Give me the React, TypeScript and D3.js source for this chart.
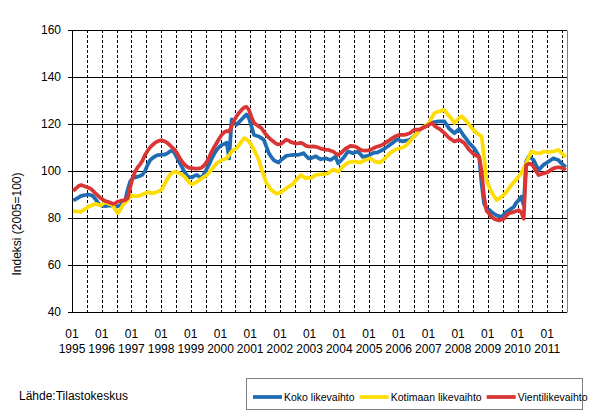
import * as d3 from 'd3';
import { useEffect, useRef } from 'react';

// monthly index 2005=100, 1995M01 .. 2011M08
const years = ['1995', '1996', '1997', '1998', '1999', '2000', '2001', '2002', '2003', '2004', '2005', '2006', '2007', '2008', '2009', '2010', '2011'];
const yTicks = [40, 60, 80, 100, 120, 140, 160];

const koko = [
  87.6, 88, 88.6, 89.3, 89.6, 89.8, 90, 89.8, 89.3, 88, 86.5, 85.4,
  85.2, 85, 85.2, 85.4, 85.2, 84.7, 85, 85.4, 86, 87.5, 92, 95.5,
  97, 97.3, 97.6, 97.9, 98.5, 100, 102.5, 104.5, 105.5, 106.2, 106.7, 106.9,
  107, 107, 107.5, 108.3, 108.7, 107.5, 105.5, 103.5, 101.5, 99.5, 98, 97.3,
  97.3, 98, 98.3, 97.5, 97.3, 99, 101, 103, 105.4, 107.3, 109, 110.2,
  111.1, 111.5, 112, 105.4, 122, 120.5, 119.7, 120.8, 121.9, 123, 124, 122.5,
  119, 115.4, 115, 114.7, 114, 113.3, 110.5, 107.6, 106, 104.7, 104, 103.6,
  104.7, 105.5, 106.4, 106.6, 106.8, 106.9, 106.9, 106.9, 107.2, 107.6, 106.5, 105.4,
  105.4, 105.8, 106.3, 105.6, 105, 105.2, 105.4, 105, 104.7, 105.4, 106.1, 103.3,
  104.3, 105.4, 106.8, 108.3, 108, 107.6, 108, 108.3, 107.2, 106, 106.2, 106.4,
  107, 107.6, 107.8, 107.9, 108.5, 109, 109.7, 110.4, 111.2, 111.9, 112.8, 113.6,
  113, 112.6, 112.8, 113, 113.3, 114.2, 115, 116.3, 117.6, 118.3, 119, 119.7,
  120.4, 120.6, 120.8, 121, 121.1, 121.1, 121.1, 119.5, 117.9, 117, 116.1, 117,
  117.9, 116.3, 114.7, 113.3, 111.9, 110.8, 109.7, 108, 106, 94.6, 86.1, 84,
  83.5, 82.6, 81.8, 81.1, 80.8, 80.4, 81.5, 82.6, 83.3, 84, 84.7, 86.5,
  87.6, 89, 85.4, 104, 106.1, 105.5, 104.7, 102.5, 100.4, 101.5, 102.6, 103.3,
  104, 104.7, 105.4, 105, 104.7, 103.5, 102.6, 101.6,
];

const kotimaan = [
  83, 82.8, 82.7, 82.6, 83.2, 84, 84.7, 85.2, 85.6, 86, 85.7, 85.4,
  86, 86.9, 86.2, 85.8, 85.4, 83.5, 82.1, 83.5, 85.4, 86.5, 87.6, 89.3,
  89.5, 89.3, 89.3, 89.6, 90, 90.5, 91, 90.8, 90.5, 90.8, 91.2, 91.6,
  92.5, 94.7, 96.5, 98.3, 99.2, 99.7, 99.4, 99, 98.3, 97.6, 96.3, 95,
  94.3, 94.8, 95.4, 96.2, 96.9, 97.6, 98.3, 99.5, 100.7, 102, 103.3, 104,
  104.7, 105, 105.4, 106.8, 108.3, 109, 109.7, 111, 112.5, 114, 113.5, 112.6,
  111, 109, 107, 104.7, 101, 98, 95, 93.5, 92, 91.2, 90.4, 90.6,
  91, 91.8, 92.6, 93.3, 94, 94.7, 96.1, 97.2, 98.3, 97.5, 96.9, 97.2,
  96.9, 97.6, 98.3, 98.5, 98.6, 98.7, 98.8, 99, 99.8, 100.7, 100.2, 99.7,
  100.8, 101.9, 102.8, 103.6, 103.8, 104, 104, 103.8, 103.6, 104.2, 104.7, 105,
  105.4, 104.7, 104, 103.8, 103.6, 104.5, 105.4, 106.5, 107.6, 108.3, 109, 109.4,
  109.7, 110, 110.4, 111.5, 112.6, 113.8, 115, 116.3, 117.6, 118.3, 119, 119.7,
  121, 123, 124.7, 125.1, 125.4, 125.7, 125.9, 124.5, 123.3, 122, 120.4, 121.5,
  122.6, 123.3, 122.2, 121.1, 119.7, 118.3, 117.2, 116.1, 115.4, 114.7, 106, 96,
  93.5, 91.1, 89.4, 87.6, 88.3, 89, 90, 91.1, 92.5, 94, 95.2, 96.4,
  97.7, 99, 101, 103.3, 105.8, 108.3, 108, 107.6, 107.6, 107.6, 108.3, 108.1,
  108, 108.2, 108.3, 108.6, 109, 108, 106.9, 106,
];

const vienti = [
  91.5, 92.5, 93.5, 94, 93.8, 93.3, 93, 92.5, 91.5, 90.5, 89.5, 88.5,
  87.8, 87.2, 86.9, 86.5, 86, 86.3, 87, 87.2, 87.5, 87.6, 88.5, 93,
  97, 99.8, 101.5, 102.8, 104.5, 106.8, 108.5, 110, 111, 112, 112.6, 113,
  113, 112.6, 112, 111, 110, 109, 107.5, 105.5, 104, 102.7, 101.8, 101.3,
  101.2, 101, 101, 101.1, 101.5, 102.5, 104, 106, 108.3, 110.2, 112, 113.8,
  115.4, 116.5, 117, 116.9, 119, 121.5, 123.3, 124.8, 126, 127, 127.3, 126,
  123, 120.5, 119.7, 119, 118.3, 116.8, 115.4, 114.2, 113.3, 112.4, 111.6, 111.3,
  111.6, 112.4, 113.3, 113, 112.3, 112, 111.6, 111.8, 112, 111.5, 110.7, 110.5,
  110.4, 110.5, 110.3, 110, 109.5, 109.3, 109.1, 109, 108.6, 108.3, 107.5, 106.9,
  107.5, 108.5, 109.5, 110.1, 110.7, 110.6, 110.4, 109.8, 109, 108.8, 108.7, 108.8,
  109, 109.5, 110.1, 110.4, 110.7, 111.2, 111.9, 112.6, 113.3, 114, 114.7, 115.1,
  115.4, 115.4, 115.4, 115.7, 116.1, 116.9, 117.6, 117.6, 117.6, 118.2, 118.7, 119.2,
  119.8, 120.4, 119.2, 118.5, 117.9, 117, 116.1, 115, 114, 113.3, 112.6, 113,
  113.3, 112.6, 111.9, 110.5, 109, 108, 106.9, 106.5, 106.1, 100, 89, 83,
  81.9, 80.5, 79.7, 79.3, 79, 79.3, 79.7, 81, 81.9, 82.3, 82.6, 83,
  83.3, 82.5, 79.7, 102.6, 103, 103, 101.9, 100, 98.3, 98.6, 99, 99.3,
  99.7, 100.5, 101.1, 101.4, 101.6, 101.4, 101.1, 100.4,
];

const seriesNames = ['Koko likevaihto', 'Kotimaan likevaihto', 'Vientilikevaihto'];
const seriesValues = [koko, kotimaan, vienti];
const seriesColors = ['#1f6cb4', '#ffdd00', '#d93535'];

const App = () => {
  const chartRef = useRef<SVGSVGElement | null>(null);

  useEffect(() => {
    const width = 592;
    const height = 415;
    const left = 72;
    const right = 567;
    const top = 30;
    const bottom = 312;
    const font = '"Liberation Sans", Arial, sans-serif';

    const svg = d3.select(chartRef.current).attr('width', width).attr('height', height);
    svg.selectAll('*').remove();

    const n = koko.length;
    const x = d3.scaleLinear().domain([0, n]).range([left, right]);
    const y = d3.scaleLinear().domain([40, 160]).range([bottom, top]);
    const crisp = (v: number) => Math.round(v) + 0.5;

    // vertical dashed lines every half year
    const halfYears = d3.range(6, n, 6);
    svg
      .append('g')
      .selectAll('line')
      .data(halfYears)
      .join('line')
      .attr('x1', (d) => crisp(x(d)))
      .attr('x2', (d) => crisp(x(d)))
      .attr('y1', top)
      .attr('y2', bottom)
      .attr('stroke', '#000')
      .attr('stroke-width', 1)
      .attr('stroke-dasharray', '3,2');

    // horizontal grid
    svg
      .append('g')
      .selectAll('line')
      .data(yTicks)
      .join('line')
      .attr('x1', left - 4)
      .attr('x2', right)
      .attr('y1', (d) => crisp(y(d)))
      .attr('y2', (d) => crisp(y(d)))
      .attr('stroke', '#000')
      .attr('stroke-width', 1);

    // right border
    svg
      .append('line')
      .attr('x1', crisp(right))
      .attr('x2', crisp(right))
      .attr('y1', crisp(top))
      .attr('y2', crisp(bottom))
      .attr('stroke', '#808080');

    // left axis
    svg
      .append('line')
      .attr('x1', crisp(left))
      .attr('x2', crisp(left))
      .attr('y1', crisp(top))
      .attr('y2', crisp(bottom))
      .attr('stroke', '#000');

    // y labels
    svg
      .append('g')
      .selectAll('text')
      .data(yTicks)
      .join('text')
      .attr('x', 61)
      .attr('y', (d) => y(d) + 4)
      .attr('text-anchor', 'end')
      .attr('font-family', font)
      .attr('font-size', 12)
      .text((d) => d);

    // x labels
    const xl = svg.append('g').attr('font-family', font).attr('font-size', 12).attr('text-anchor', 'middle');
    xl.selectAll('text.m')
      .data(years)
      .join('text')
      .attr('class', 'm')
      .attr('x', (_, i) => x(i * 12))
      .attr('y', 338)
      .text('01');
    xl.selectAll('text.yr')
      .data(years)
      .join('text')
      .attr('class', 'yr')
      .attr('x', (_, i) => x(i * 12))
      .attr('y', 353)
      .text((d) => d);

    // y title
    svg
      .append('text')
      .attr('transform', 'translate(21,224) rotate(-90)')
      .attr('text-anchor', 'middle')
      .attr('font-family', font)
      .attr('font-size', 12)
      .text('Indeksi (2005=100)');

    // series
    const line = d3
      .line<number>()
      .x((_, i) => x(i + 0.5))
      .y((d) => y(d));
    seriesValues.forEach((vals, k) => {
      svg
        .append('path')
        .attr('d', line(vals))
        .attr('fill', 'none')
        .attr('stroke', seriesColors[k])
        .attr('stroke-width', 3.75)
        .attr('stroke-linejoin', 'round');
    });

    // source
    svg
      .append('text')
      .attr('x', 19)
      .attr('y', 400)
      .attr('font-family', font)
      .attr('font-size', 12)
      .text('Lähde:Tilastokeskus');

    // legend
    svg
      .append('rect')
      .attr('x', 246.5)
      .attr('y', 378.5)
      .attr('width', 336)
      .attr('height', 31)
      .attr('fill', '#fff')
      .attr('stroke', '#808080');
    let lx = 253;
    seriesNames.forEach((name, k) => {
      svg
        .append('line')
        .attr('x1', lx)
        .attr('x2', lx + 29)
        .attr('y1', 397)
        .attr('y2', 397)
        .attr('stroke', seriesColors[k])
        .attr('stroke-width', 3.75);
      const t = svg
        .append('text')
        .attr('x', lx + 31)
        .attr('y', 401)
        .attr('font-family', font)
        .attr('font-size', 10.5)
        .text(name);
      const w = (t.node() as SVGTextElement).getComputedTextLength();
      lx += 31 + w + 5;
    });
  }, []);

  return <svg ref={chartRef} style={{ position: 'absolute', left: 0, top: 0 }}></svg>;
};

export default App;
